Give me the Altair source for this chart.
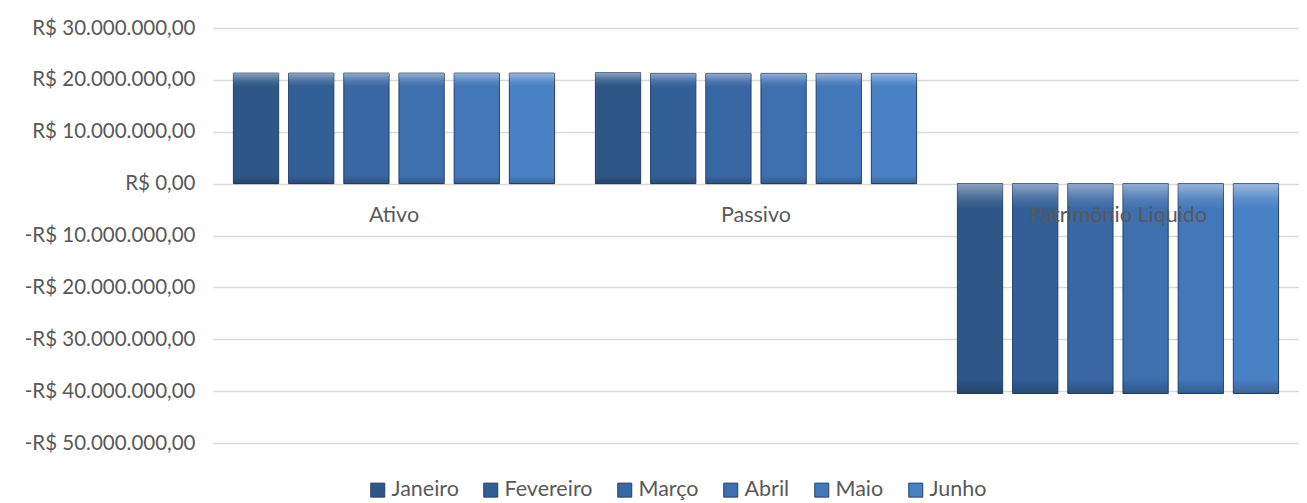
import altair as alt
import pandas as pd

categorias = ["Ativo", "Passivo", "Patrimônio Liquido"]
meses = ["Janeiro", "Fevereiro", "Março", "Abril", "Maio", "Junho"]
ativo = [21300000, 21300000, 21300000, 21300000, 21300000, 21300000]
passivo = [21400000, 21250000, 21250000, 21250000, 21250000, 21250000]
patrimonio = [-40450000, -40450000, -40450000, -40450000, -40450000, -40450000]
cores = ["#2E5787", "#335F97", "#3967A3", "#3E6FAF", "#4278BA", "#4981C5"]
ticks_y = [30000000, 20000000, 10000000, 0, -10000000, -20000000, -30000000, -40000000, -50000000]

rows = []
for cat, vals in zip(categorias, [ativo, passivo, patrimonio]):
    for m, v in zip(meses, vals):
        rows.append({"cat": cat, "mes": m, "valor": v})
df = pd.DataFrame(rows)
df_lab = pd.DataFrame({"cat": categorias, "valor": [0, 0, 0]})

label_expr = (
    "(datum.value < 0 ? '-' : '') + 'R$ ' + "
    "replace(replace(replace(format(abs(datum.value), ',.2f'), regexp(',', 'g'), '#'), "
    "regexp('[.]', 'g'), ','), regexp('#', 'g'), '.')"
)

x_enc = alt.X("cat:N", sort=categorias, axis=None,
              scale=alt.Scale(paddingInner=0, paddingOuter=0))
xoff_enc = alt.XOffset("mes:N", sort=meses,
                       scale=alt.Scale(paddingInner=0.18, paddingOuter=0.37))
y_scale = alt.Scale(domain=[-50000000, 30000000], nice=False, zero=False)

bars = alt.Chart(df).mark_bar(stroke="#22406A", strokeWidth=1).encode(
    x=x_enc,
    xOffset=xoff_enc,
    y=alt.Y("valor:Q", scale=y_scale, title=None,
            axis=alt.Axis(values=ticks_y, labelExpr=label_expr, domain=False,
                          ticks=False, labelPadding=18, labelFont="Lato",
                          labelFontSize=20.5, labelColor="#595959",
                          gridColor="#D9D9D9", gridWidth=1.3,
                          minExtent=205, maxExtent=205)),
    color=alt.Color("mes:N", sort=meses,
                    scale=alt.Scale(domain=meses, range=cores),
                    legend=alt.Legend(orient="none", direction="horizontal",
                                      title=None, legendX=154, legendY=451,
                                      symbolType="square", symbolSize=196,
                                      symbolStrokeColor="#22406A",
                                      symbolStrokeWidth=1,
                                      labelFont="Lato", labelFontSize=21.5,
                                      labelColor="#595959", labelOffset=3,
                                      columnPadding=21)),
)

bevel = alt.Chart(df).mark_bar(
    strokeWidth=0,
    fill=alt.Gradient(
        gradient="linear", x1=0, x2=0, y1=0, y2=1,
        stops=[
            alt.GradientStop(offset=0, color="rgba(255,255,255,0.45)"),
            alt.GradientStop(offset=0.07, color="rgba(255,255,255,0.12)"),
            alt.GradientStop(offset=0.12, color="rgba(255,255,255,0)"),
            alt.GradientStop(offset=0.93, color="rgba(0,0,0,0)"),
            alt.GradientStop(offset=1, color="rgba(0,0,0,0.22)"),
        ],
    ),
).encode(
    x=x_enc,
    xOffset=xoff_enc,
    y=alt.Y("valor:Q", scale=y_scale),
)

labels = alt.Chart(df_lab).mark_text(
    font="Lato", fontSize=21.5, color="#595959", baseline="alphabetic", dy=38
).encode(
    x=x_enc,
    y=alt.Y("valor:Q", scale=y_scale),
    text="cat:N",
)

chart = alt.layer(bars, bevel, labels).properties(
    width=1086, height=415,
    padding={"left": 0, "top": 10, "right": 0, "bottom": 0},
).configure_view(stroke=None)

chart.save("out.html", embed_options={"renderer": "svg", "actions": False})
